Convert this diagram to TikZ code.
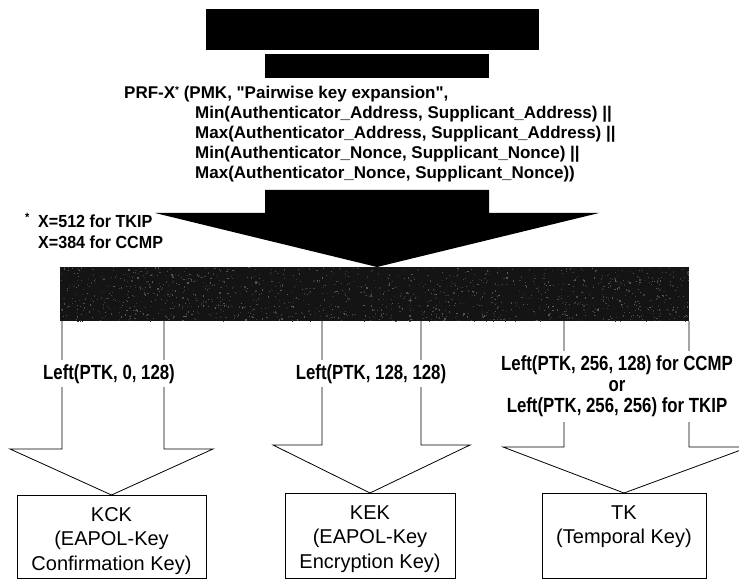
\documentclass[tikz,border=0pt]{standalone}
\usepackage{fontspec}
\setmainfont{Liberation Sans}
\newfontfamily\plainsans{Liberation Sans}
\newfontfamily\narrowsans[FakeStretch=0.82]{Liberation Sans}
\newfontfamily\notesans[FakeStretch=0.92]{Liberation Sans}
\newcommand\straightquote{{\plainsans\char"22}}

\begin{document}
\begin{tikzpicture}[x=1pt,y=-1pt,
  solidblock/.style={fill=black, draw=none, inner sep=0pt, outer sep=0pt, anchor=north west},
  keybox/.style={draw=black, line width=0.8pt, fill=white, inner sep=0pt, outer sep=0pt, anchor=north west},
  outline/.style={draw=black, line width=0.8pt, line join=miter},
  prftext/.style={anchor=base west, inner sep=0pt, font=\fontsize{17}{20}\selectfont\bfseries},
  notetext/.style={anchor=base west, inner sep=0pt, font=\notesans\fontsize{17.5}{19}\selectfont\bfseries},
  splitlabel/.style={anchor=base, fill=white, inner xsep=1pt, inner ysep=4pt, font=\narrowsans\fontsize{20.5}{21}\selectfont\bfseries},
  keytext/.style={anchor=base, inner sep=0pt, font=\fontsize{20}{24.5}\selectfont},
]
\useasboundingbox (0,0) rectangle (739,580);
\clip (0,0) rectangle (739,580);

% blacked-out heading bars
\node[solidblock, minimum width=333pt, minimum height=41pt] (barA) at (206,9) {};
\node[solidblock, minimum width=224pt, minimum height=24pt] (barB) at (265,54) {};

% key derivation call
\node[prftext] (prf1) at (124,99) {PRF-X\raisebox{5pt}{\fontsize{10}{10}\selectfont*} (PMK, \straightquote Pairwise key expansion\straightquote,};
\node[prftext] (prf2) at (195,119) {Min(Authenticator\_Address, Supplicant\_Address) ||};
\node[prftext] (prf3) at (195,139) {Max(Authenticator\_Address, Supplicant\_Address) ||};
\node[prftext] (prf4) at (195,159) {Min(Authenticator\_Nonce, Supplicant\_Nonce) ||};
\node[prftext] (prf5) at (195,179) {Max(Authenticator\_Nonce, Supplicant\_Nonce))};

% footnote on X
\node[notetext, font=\notesans\fontsize{12}{12}\selectfont\bfseries] (star) at (25,222) {*};
\node[notetext] (note1) at (38,228) {X=512 for TKIP};
\node[notetext] (note2) at (38,248) {X=384 for CCMP};

% PTK bar (grainy dark fill)
\node[solidblock, fill=black!92, minimum width=629pt, minimum height=54pt] (ptk) at (60,267) {};
\begin{scope}
  \clip (60,267) rectangle (689,321);
  \pgfmathsetseed{17}
  \foreach \i in {1,...,1400}{
    \pgfmathsetmacro\px{60+629*rnd}
    \pgfmathsetmacro\py{267+54*rnd}
    \pgfmathsetmacro\gv{62+25*rnd}
    \fill[black!\gv] (\px,\py) rectangle ++(1.2,1.2);
  }
\end{scope}

% large solid arrow into the PTK bar
\coordinate (bigtip) at (377,267);
\fill[black] (265,190) -- (265,213) -- (155,213) -- (bigtip) -- (599,213) -- (489,213) -- (489,190) -- cycle;

% key boxes
\node[keybox, minimum width=189pt, minimum height=83pt] (kck) at (17,495) {};
\node[keybox, minimum width=170pt, minimum height=85pt] (kek) at (285,493) {};
\node[keybox, minimum width=164pt, minimum height=85pt] (tk) at (542,493) {};

% outlined arrows from the PTK bar to each key
\coordinate (s1a) at (62,321);  \coordinate (s1b) at (164,321);
\coordinate (s2a) at (322,321); \coordinate (s2b) at (421,321);
\coordinate (s3a) at (564,321); \coordinate (s3b) at (689,321);
\draw[outline] (s1a) -- (62,449) -- (10,449) -- (kck.north) -- (213,449) -- (164,449) -- (s1b);
\draw[outline] (s2a) -- (322,445) -- (273,445) -- (kek.north) -- (470,445) -- (421,445) -- (s2b);
\draw[outline] (s3a) -- (564,447) -- (503,447) -- (tk.north) -- (749,447) -- (689,447) -- (s3b);

% split labels
\node[splitlabel] (l1) at (109,379) {Left(PTK, 0, 128)};
\node[splitlabel] (l2) at (371,379) {Left(PTK, 128, 128)};
\node[splitlabel] (l3) at (617,370) {\begin{tabular}[t]{@{}c@{}}Left(PTK, 256, 128) for CCMP\\or\\Left(PTK, 256, 256) for TKIP\end{tabular}};

% key names
\node[keytext] (kcktxt) at (111.5,521) {\begin{tabular}[t]{@{}c@{}}KCK\\(EAPOL-Key\\Confirmation Key)\end{tabular}};
\node[keytext] (kektxt) at (370,519) {\begin{tabular}[t]{@{}c@{}}KEK\\(EAPOL-Key\\Encryption Key)\end{tabular}};
\node[keytext] (tktxt) at (624,519) {\begin{tabular}[t]{@{}c@{}}TK\\(Temporal Key)\end{tabular}};
\end{tikzpicture}
\end{document}
